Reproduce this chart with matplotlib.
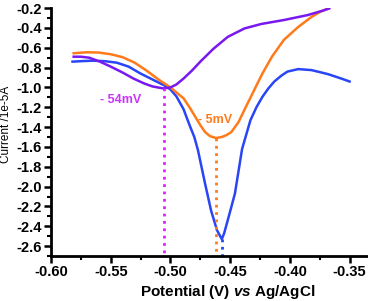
import matplotlib
matplotlib.use("Agg")
import matplotlib.pyplot as plt
from matplotlib.ticker import MultipleLocator

plt.rcParams['font.family'] = ['Liberation Sans', 'DejaVu Sans']
plt.rcParams['mathtext.fontset'] = 'custom'
plt.rcParams['mathtext.it'] = 'Liberation Sans:bold:italic'
plt.rcParams['mathtext.rm'] = 'Liberation Sans:bold'

# blue curve
blue_x = [-0.582, -0.575, -0.565, -0.555, -0.545, -0.535, -0.525, -0.515, -0.505,
          -0.500, -0.495, -0.489, -0.484, -0.480, -0.477, -0.471, -0.466, -0.461,
          -0.457, -0.455, -0.450, -0.446, -0.440, -0.433, -0.428, -0.423, -0.418,
          -0.413, -0.407, -0.402, -0.393, -0.382, -0.375, -0.368, -0.357, -0.350]
blue_y = [-0.74, -0.735, -0.73, -0.735, -0.75, -0.79, -0.86, -0.92, -0.98,
          -1.02, -1.09, -1.22, -1.38, -1.50, -1.63, -1.97, -2.24, -2.44,
          -2.53, -2.47, -2.25, -2.07, -1.62, -1.33, -1.20, -1.095, -1.01,
          -0.94, -0.88, -0.84, -0.815, -0.825, -0.845, -0.866, -0.91, -0.94]

# orange curve
orange_x = [-0.581, -0.570, -0.560, -0.550, -0.540, -0.530, -0.520, -0.510, -0.500,
            -0.495, -0.489, -0.484, -0.479, -0.475, -0.471, -0.467, -0.462, -0.457,
            -0.453, -0.449, -0.443, -0.437, -0.430, -0.423, -0.415, -0.405, -0.393,
            -0.382, -0.375, -0.368]
orange_y = [-0.655, -0.645, -0.648, -0.665, -0.695, -0.75, -0.83, -0.92, -1.00,
            -1.05, -1.11, -1.20, -1.30, -1.38, -1.45, -1.49, -1.51, -1.50,
            -1.48, -1.45, -1.35, -1.20, -1.03, -0.86, -0.69, -0.52, -0.39,
            -0.29, -0.24, -0.203]

# purple curve
purple_x = [-0.581, -0.575, -0.568, -0.559, -0.550, -0.540, -0.531, -0.522, -0.515,
            -0.506, -0.500, -0.495, -0.489, -0.482, -0.475, -0.464, -0.452, -0.438,
            -0.424, -0.405, -0.385, -0.371, -0.367]
purple_y = [-0.69, -0.69, -0.70, -0.74, -0.79, -0.85, -0.91, -0.96, -0.99,
            -1.01, -1.00, -0.97, -0.91, -0.83, -0.74, -0.61, -0.49, -0.405,
            -0.36, -0.32, -0.27, -0.22, -0.203]

# peak markers: (x, y of peak)
peak_x = [-0.505, -0.462, -0.457]
peak_y = [-1.01, -1.51, -2.53]
peak_colors = ['#dd22ff', '#ff7a1a', '#2a45f5']

c_blue = '#2a45f5'
c_orange = '#ff7a1a'
c_purple = '#7a18f0'

fig = plt.figure(figsize=(3.68, 3.01), dpi=100)
ax = fig.add_axes([0.1386, 0.1495, 0.86, 0.8235])

ax.plot(blue_x, blue_y, color=c_blue, lw=1.8)
ax.plot(orange_x, orange_y, color=c_orange, lw=1.8)
ax.plot(purple_x, purple_y, color=c_purple, lw=1.8)

ymin = -2.7
for px, py, pc in zip(peak_x, peak_y, peak_colors):
    ax.plot([px, px], [py, ymin], ls=':', color=pc, lw=2)

ax.text(-0.542, -1.13, '- 54mV', color='#cc33ff', fontsize=9, fontweight='bold',
        ha='center', va='center', zorder=5)
ax.text(-0.4625, -1.33, '- 5mV', color=c_orange, fontsize=9, fontweight='bold',
        ha='center', va='center', zorder=5)

ax.set_xlim(-0.6, -0.335)
ax.set_ylim(ymin, -0.2)
ax.xaxis.set_major_locator(MultipleLocator(0.05))
ax.xaxis.set_minor_locator(MultipleLocator(0.025))
ax.yaxis.set_major_locator(MultipleLocator(0.2))
ax.yaxis.set_minor_locator(MultipleLocator(0.1))
ax.xaxis.set_major_formatter(plt.FuncFormatter(lambda v, p: '%.2f' % v))
ax.yaxis.set_major_formatter(plt.FuncFormatter(lambda v, p: '%.1f' % v))

for s in ['top', 'right']:
    ax.spines[s].set_visible(False)
for s in ['left', 'bottom']:
    ax.spines[s].set_linewidth(2)

ax.tick_params(which='major', direction='out', length=5, width=1.8, pad=1.5, labelsize=10.5)
ax.tick_params(which='minor', direction='out', length=3, width=1.5)
for lab in ax.get_xticklabels() + ax.get_yticklabels():
    lab.set_fontweight('bold')

ax.set_xlabel(r'Potential (V) $\it{vs}$ Ag/AgCl', fontsize=11, fontweight='bold')
ax.xaxis.set_label_coords(0.56, -0.11)
ax.set_ylabel('Current /1e-5A', fontsize=8.5)
ax.yaxis.set_label_coords(-0.122, 0.53)

fig.savefig('out.png', dpi=100)
